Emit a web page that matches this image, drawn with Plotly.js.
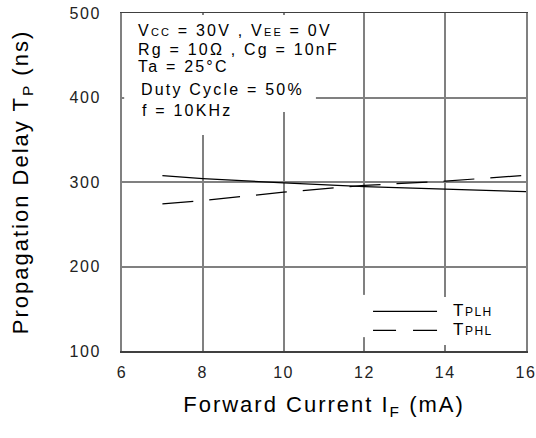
<!DOCTYPE html>
<html>
<head>
<meta charset="utf-8">
<script src="https://cdn.plot.ly/plotly-3.0.1.min.js"></script>
<style>
html,body{margin:0;padding:0;background:#fff;}
#chart{width:536px;height:438px;}
.xtick text, .ytick text { letter-spacing: 1.5px; }
.g-xtitle text, .g-ytitle text { letter-spacing: 2px; }
.annotation-text { letter-spacing: 2.2px; }
.legendtext { letter-spacing: 1.5px; }
#chart .legend .traces path.js-line { d: path("M5,0h64"); }
#chart .legend .traces:nth-of-type(2) path.js-line { stroke-dasharray: 23px,17px,24px !important; }
</style>
</head>
<body>
<div id="chart"></div>
<script>
// Data
var forwardCurrent = [7, 8, 10, 12, 14, 16];          // I_F (mA)
var tPLH = [307.5, 304, 299, 294.5, 291.5, 288.5];   // ns, solid
var tPHL = [274, 278, 288, 296, 301, 308];           // ns, dashed
var xTicks = [6, 8, 10, 12, 14, 16];
var yTicks = [100, 200, 300, 400, 500];
var conditions = [
  "V<span style='font-size:11px'>CC</span> = 30V , V<span style='font-size:11px'>EE</span> = 0V",
  "Rg = 10\u03A9 , Cg = 10nF",
  "Ta = 25\u00B0C",
  "Duty Cycle = 50%",
  "f = 10KHz"
];
var seriesNames = ["<span style='font-size:17px'>T</span>PLH", "<span style='font-size:17px'>T</span>PHL"];

var FONT = "Liberation Sans, Arial, sans-serif";

var traces = [
  {x: forwardCurrent, y: tPLH, name: seriesNames[0], mode: "lines", type: "scatter",
   line: {color: "#000", width: 1.2}},
  {x: forwardCurrent, y: tPHL, name: seriesNames[1], mode: "lines", type: "scatter",
   line: {color: "#000", width: 1.2, dash: "31px,16px"}}
];

var condY = [0.948, 0.893, 0.841, 0.774, 0.713];
var condX = [0.035, 0.035, 0.035, 0.042, 0.045];
var annotations = conditions.map(function (t, i) {
  return {text: t, xref: "paper", yref: "paper", x: condX[i], y: condY[i],
          xanchor: "left", yanchor: "middle", showarrow: false,
          font: {family: FONT, size: 16, color: "#000"}};
});

var layout = {
  width: 536, height: 438,
  margin: {l: 122, r: 10, t: 13, b: 87},
  paper_bgcolor: "#fff", plot_bgcolor: "#fff",
  font: {family: FONT, color: "#000"},
  showlegend: true,
  legend: {x: 0.609, y: 0.16, xanchor: "left", yanchor: "top",
           bgcolor: "#fff", borderwidth: 0, tracegroupgap: 0, itemwidth: 75,
           font: {family: FONT, size: 12, color: "#000"}},
  xaxis: {
    range: [6, 16], tickvals: xTicks, ticktext: xTicks.map(String),
    showgrid: true, gridcolor: "#808080", gridwidth: 2,
    showline: true, linecolor: "#404040", linewidth: 1.5, mirror: true,
    ticks: "", zeroline: false, ticklabelstandoff: 6, ticklabeloverflow: "allow",
    tickfont: {family: FONT, size: 16, color: "#222"},
    title: {text: "Forward Current I<sub>F</sub> (mA)", standoff: 17,
            font: {family: FONT, size: 22, color: "#000"}}
  },
  yaxis: {
    range: [100, 500], tickvals: yTicks, ticktext: yTicks.map(String),
    showgrid: true, gridcolor: "#808080", gridwidth: 2,
    showline: true, linecolor: "#808080", linewidth: 2, mirror: true,
    ticks: "", zeroline: false, ticklabelstandoff: 16, ticklabeloverflow: "allow",
    tickfont: {family: FONT, size: 16, color: "#222"},
    title: {text: "Propagation Delay T<sub>P</sub> (ns)", standoff: 35,
            font: {family: FONT, size: 22, color: "#000"}}
  },
  shapes: [
    {type: "rect", xref: "paper", yref: "paper", x0: 0.006, x1: 0.48, y0: 0.707, y1: 0.994,
     fillcolor: "#fff", line: {width: 0}, layer: "above"},
    {type: "rect", xref: "paper", yref: "paper", x0: 0.006, x1: 0.30, y0: 0.639, y1: 0.994,
     fillcolor: "#fff", line: {width: 0}, layer: "above"},
    {type: "rect", xref: "paper", yref: "paper", x0: 0.59, x1: 0.62, y0: 0.041, y1: 0.166,
     fillcolor: "#fff", line: {width: 0}, layer: "above"}
  ],
  annotations: annotations
};

Plotly.newPlot("chart", traces, layout, {displayModeBar: false, staticPlot: true});
</script>
</body>
</html>
